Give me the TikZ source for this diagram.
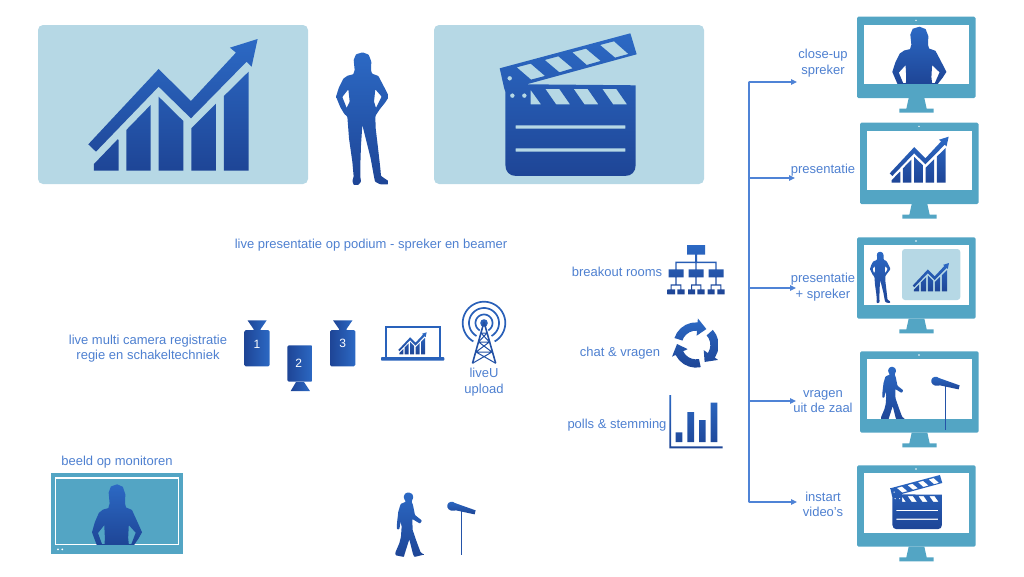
\documentclass[tikz,border=0pt]{standalone}
\usepackage{fontspec}
\setmainfont{Liberation Sans}
\usetikzlibrary{arrows.meta}
\definecolor{txt}{HTML}{4E80D0}
\definecolor{flowc}{HTML}{4F83D6}
\definecolor{icontop}{HTML}{2C69C4}
\definecolor{iconbot}{HTML}{1E4596}
\definecolor{panel}{HTML}{B6D8E5}
\definecolor{mon}{HTML}{53A5C4}
\tikzset{
  icon/.style={top color=icontop,bottom color=iconbot,draw=none,even odd rule},
  softicon/.style={icon,rounded corners=.7pt},
  label/.style={text=txt,font=\fontsize{13}{15.5}\selectfont,align=center,inner sep=0pt},
  num/.style={text=white,font=\fontsize{12}{14}\selectfont,inner sep=0pt},
  flow/.style={draw=flowc,line width=1.2pt,-{Triangle[length=6pt,width=5.5pt]}},
  trunk/.style={draw=flowc,line width=1.2pt,line cap=round},
  panelbox/.style={fill=panel,rounded corners=5pt},
}
\newcommand\chartpath{
  (175,388) -- (198,410) -- (386,215) -- (483,310) -- (650,140) -- (665,155) -- (683,72) -- (600,98) -- (618,113) -- (483,258) -- (386,162) -- cycle
  (192,447) -- (263,373) -- (266,375) -- (266,467) -- (192,467) -- cycle
  (289,345) -- (362,270) -- (362,467) -- (289,467) -- cycle
  (386,245) -- (460,318) -- (460,467) -- (386,467) -- cycle
  (484,340) -- (558,266) -- (558,467) -- (484,467) -- cycle
  (582,243) -- (656,170) -- (656,467) -- (582,467) -- cycle}
\newcommand\chartat[3]{\shade[icon,shift={(#1,#2)},scale=#3,shift={(-175,-72)}] \chartpath;}
\newcommand\clappath{
  (209,160) -- (601,55) -- (620,118) -- (290,208) -- (617,211) -- (617,450) .. controls (617,470) and (605,483) .. (585,483) -- (258,483) .. controls (238,483) and (226,470) .. (226,450) -- (226,230) -- (222,218) -- cycle
  (260,157) -- (302,146) -- (345,183) -- (303,194) -- cycle
  (344,135) -- (385,124) -- (428,160) -- (388,172) -- cycle
  (427,112) -- (468,101) -- (512,138) -- (470,150) -- cycle
  (510,90) -- (552,79) -- (595,117) -- (555,128) -- cycle
  (302,225) -- (333,268) -- (302,268) -- cycle
  (346,222) -- (388,222) -- (420,268) -- (378,268) -- cycle
  (431,222) -- (473,222) -- (505,268) -- (463,268) -- cycle
  (517,222) -- (559,222) -- (591,268) -- (549,268) -- cycle
  (239,190) circle[radius=7] (247,242) circle[radius=7] (283,242) circle[radius=7]
  (257,331) rectangle (586,341) (257,400) rectangle (586,410)}
\newcommand\clapat[3]{\shade[icon,shift={(#1,#2)},scale=#3,shift={(-209,-55)}] \clappath;}
\newcommand\personpath{
  (113,22) -- (131,29) -- (139,50) -- (138,75) -- (141,86) -- (160,93) -- (170,112) -- (182,135) -- (192,155) -- (181,172) -- (165,192) -- (153,210) -- (151,215) -- (152,250) -- (158,300) -- (166,370) -- (168,393) -- (190,408) -- (190,418) -- (165,418) -- (150,410) -- (146,390) -- (137,340) -- (122,280) -- (112,240) -- (108,300) -- (106,360) -- (106,395) -- (108,410) -- (100,420) -- (86,420) -- (82,408) -- (86,395) -- (82,350) -- (72,280) -- (67,215) -- (58,207) -- (46,187) -- (33,155) -- (42,127) -- (55,101) -- (68,92) -- (85,88) -- (89,75) -- (86,45) -- (93,28) -- cycle
  (70,133) -- (52,156) -- (65,189) -- (74,170) -- cycle
  (151,133) -- (170,155) -- (153,189) -- (147,170) -- cycle}
\newcommand\personat[3]{\shade[softicon,shift={(#1,#2)},scale=#3,shift={(-33,-22)}] \personpath;}
\newcommand\bustpath{
  (113,22) -- (131,29) -- (139,50) -- (138,75) -- (141,86) -- (160,93) -- (170,112) -- (182,135) -- (192,155) -- (181,172) -- (167,190) -- (48,190) -- (33,155) -- (42,127) -- (55,101) -- (68,92) -- (85,88) -- (89,75) -- (86,45) -- (93,28) -- cycle
  (72,135) -- (52,157) -- (65,188) -- (73,188) -- (74,170) -- cycle
  (150,135) -- (172,156) -- (158,188) -- (150,188) -- (148,170) -- cycle}
\newcommand\walkerpath{
  (78,65) -- (62,72) -- (55,95) -- (51,130) -- (51,148) -- (58,148) -- (62,125) -- (65,140) -- (63,170) -- (58,190) -- (46,218) -- (47,226) -- (72,231) -- (74,222) -- (88,178) -- (99,222) -- (103,231) -- (132,224) -- (122,217) -- (110,185) -- (98,150) -- (97,117) -- (120,131) -- (126,122) -- (105,105) -- (99,75) -- (95,65) -- (97,60) -- (100,52) -- (97,42) -- (86,37) -- (76,40) -- (71,50) -- (74,60) -- cycle}
\newcommand\walkerat[3]{\shade[softicon,shift={(#1,#2)},scale=#3,shift={(-46,-37)}] \walkerpath;}
% microphone: origin is the left of its head
\newcommand\micat[2]{%
  \begin{scope}[shift={(#1,#2)},scale=1/3,shift={(-202,-65)}]
    \draw[draw=iconbot!60!icontop,line width=1.1pt] (245,85) -- (245,225);
    \shade[icon] (225,69) -- (287,91) -- (284,103) -- (228,91) -- (222,92) .. controls (208,94) and (200,84) .. (202,75) .. controls (204,65) and (218,62) .. (225,69) -- cycle;
  \end{scope}}
\newcommand\monitorat[2]{%
  \begin{scope}[shift={(#1,#2)},scale=1/3]
    \fill[mon,rounded corners=1.5pt] (0,0) rectangle (356,244);
    \fill[mon] (155,244) -- (202,244) -- (209,276) -- (230,276) -- (230,288) -- (127,288) -- (127,276) -- (148,276) -- cycle;
    \fill[white] (22,24) rectangle (335,202);
    \fill[white] (177,11) circle[radius=2.5];
  \end{scope}}
\newcommand\cambody[4]{\shade[left color=iconbot,right color=icontop,rounded corners=1.5pt] (#1,#2) rectangle (#3,#4);}
\begin{document}
\begin{tikzpicture}[x=1pt,y=-1pt]
\path[use as bounding box] (0,0) rectangle (1024,576);

% top panels
\fill[panelbox] (38,25) rectangle (308,184);
\fill[panelbox] (434,25) rectangle (704,184);
\chartat{88.3}{39}{0.3333}
\clapat{499.7}{33.3}{0.3333}
\personat{336}{52.3}{0.3333}

\node[label] (lbl-live) at (371,245) {live presentatie op podium - spreker en beamer};
\node[label] (lbl-cam) at (148,348.5) {live multi camera registratie\\regie en schakeltechniek};

% cameras
\shade[left color=iconbot,right color=icontop] (247.5,320.3) -- (266.7,320.3) -- (260.7,329) -- (260.7,331) -- (253.5,331) -- (253.5,329) -- cycle;
\cambody{244.3}{330}{269.7}{366.3}
\node[num] (n1) at (257,344) {1};
\shade[left color=iconbot,right color=icontop] (296,382) -- (304,382) -- (310,391) -- (290.7,391) -- cycle;
\cambody{287.3}{345.3}{312.7}{381.7}
\node[num] (n2) at (298.7,363.5) {2};
\shade[left color=iconbot,right color=icontop] (333,320.3) -- (352.5,320.3) -- (346.5,329) -- (346.5,331) -- (339,331) -- (339,329) -- cycle;
\cambody{330}{330}{355.3}{366.3}
\node[num] (n3) at (342.7,343.5) {3};

% laptop
\draw[draw=icontop!80!iconbot,line width=2.2pt] (385.8,357) -- (385.8,326.7) -- (440,326.7) -- (440,357);
\fill[icontop!80!iconbot,rounded corners=.8pt] (381,357) rectangle (444.3,360.7);
\chartat{398.3}{332.3}{0.0558}

% mast
\begin{scope}[draw=icontop!75!iconbot,line width=1.6pt]
  \foreach \r in {8.5,15,21.3} {
    \draw[line width=1.7pt] plot[domain=120:420,samples=50] ({484+\r*cos(\x)},{323+\r*sin(\x)});
  }
  \fill[icontop!75!iconbot] (484,323) circle[radius=3.8];
  \draw[draw=iconbot!70!icontop] (484,322) -- (472.5,363.3) (484,322) -- (495.7,363.3);
  \draw[draw=iconbot!70!icontop,line width=1pt] (481,333) -- (487,333) (478.6,342) -- (489.4,342) (476,352) -- (492,352)
    (481,333) -- (489.4,342) (487,333) -- (478.6,342) (478.6,342) -- (492,352) (489.4,342) -- (476,352)
    (476,352) -- (495.7,363.3) (492,352) -- (472.5,363.3);
\end{scope}
\node[label] (lbl-lu) at (484,382) {liveU\\upload};

% organisation chart, cycle and bar chart
\begin{scope}[shift={(560,235)},scale=1/3]
  \shade[icon,nonzero rule]
    (381,30) rectangle (435,59)
    (405,59) rectangle (411,82)
    (346,80) rectangle (470,84)
    (346,82) rectangle (350,103) (406,82) rectangle (410,103) (466,82) rectangle (470,103)
    (326,103) rectangle (371,127) (386,103) rectangle (431,127) (446,103) rectangle (491,127)
    (346,127) rectangle (350,150) (406,127) rectangle (410,150) (466,127) rectangle (470,150)
    (332,148) rectangle (364,152) (393,148) rectangle (424,152) (452,148) rectangle (484,152)
    (332,150) rectangle (335,163) (361,150) rectangle (364,163)
    (393,150) rectangle (396,163) (421,150) rectangle (424,163)
    (452,150) rectangle (455,163) (481,150) rectangle (484,163)
    (322,163) rectangle (345,178) (352,163) rectangle (374,178)
    (384,163) rectangle (405,178) (412,163) rectangle (434,178)
    (443,163) rectangle (464,178) (472,163) rectangle (494,178);
  \shade[icon,shift={(408,330)}]
    \foreach \c in {0,120,240} {
      (198+\c:68) \foreach \t in {15,30,...,75} { -- (198+\c+\t:68) }
      -- (274+\c:68) -- (274+\c:80) -- (303+\c:57) -- (274+\c:28) -- (274+\c:43)
      \foreach \t in {60,45,...,0} { -- (198+\c+\t:43) } -- cycle
    };
  \shade[icon]
    (328,480) rectangle (333,640)
    (333,634) rectangle (488,640)
    (347,592) rectangle (367,621)
    (382,531) rectangle (402,621)
    (417,555) rectangle (437,621)
    (452,503) rectangle (472,621);
\end{scope}
\node[label] (lbl-br) at (617,271.5) {breakout rooms};
\node[label] (lbl-ch) at (620,353) {chat \& vragen};
\node[label] (lbl-po) at (617,425) {polls \& stemming};

% connectors
\coordinate (t1) at (749,82);
\coordinate (t2) at (749,178);
\coordinate (t3) at (749,288);
\coordinate (t4) at (749,401);
\coordinate (t5) at (749,502);
\coordinate (a1) at (797,82);
\coordinate (a2) at (795,178);
\coordinate (a3) at (796,288);
\coordinate (a4) at (796,401);
\coordinate (a5) at (797,502);
\draw[trunk] (t1) -- (t5);
\draw[flow] (t1) -- (a1);
\draw[flow] (t2) -- (a2);
\draw[flow] (t3) -- (a3);
\draw[flow] (t4) -- (a4);
\draw[flow] (t5) -- (a5);

\node[label] (lbl-m1) at (823,63) {close-up\\spreker};
\node[label] (lbl-m2) at (823,170) {presentatie};
\node[label] (lbl-m3) at (823,287) {presentatie\\+ spreker};
\node[label] (lbl-m4) at (823,401.5) {vragen\\uit de zaal};
\node[label] (lbl-m5) at (823,504.5) {instart\\video's};

% monitors
\monitorat{857}{16.7}
\shade[icon,shift={(892.3,26.7)},scale=0.34,shift={(-33,-22)}] \bustpath;
\monitorat{860}{122.7}
\chartat{889.7}{136.7}{0.116}
\monitorat{857}{237.3}
\personat{870}{251.7}{0.129}
\fill[panel,rounded corners=3pt] (902,249) rectangle (960.3,300);
\chartat{912.7}{263}{0.0715}
\monitorat{860}{351.3}
\begin{scope}
  \clip (867,358) rectangle (971,418.6);
  \walkerat{881}{366.7}{0.279}
\end{scope}
\micat{931.3}{376.7}
\monitorat{857}{465.3}
\clapat{890.3}{475}{0.1265}

% wall monitor
\fill[mon] (50.7,473) rectangle (182.7,553.7);
\draw[white,line width=1.4pt] (55.5,478) rectangle (178.7,544.7);
\fill[white] (58,549.3) circle[radius=1] (62.3,549.3) circle[radius=1];
\shade[icon,shift={(92,484.3)},xscale=0.3145,yscale=0.361,shift={(-33,-22)}] \bustpath;
\node[label] (lbl-bm) at (117,462) {beeld op monitoren};

% bottom centre
\walkerat{395.3}{492.3}{0.3333}
\micat{447.3}{501.7}
\end{tikzpicture}
\end{document}
